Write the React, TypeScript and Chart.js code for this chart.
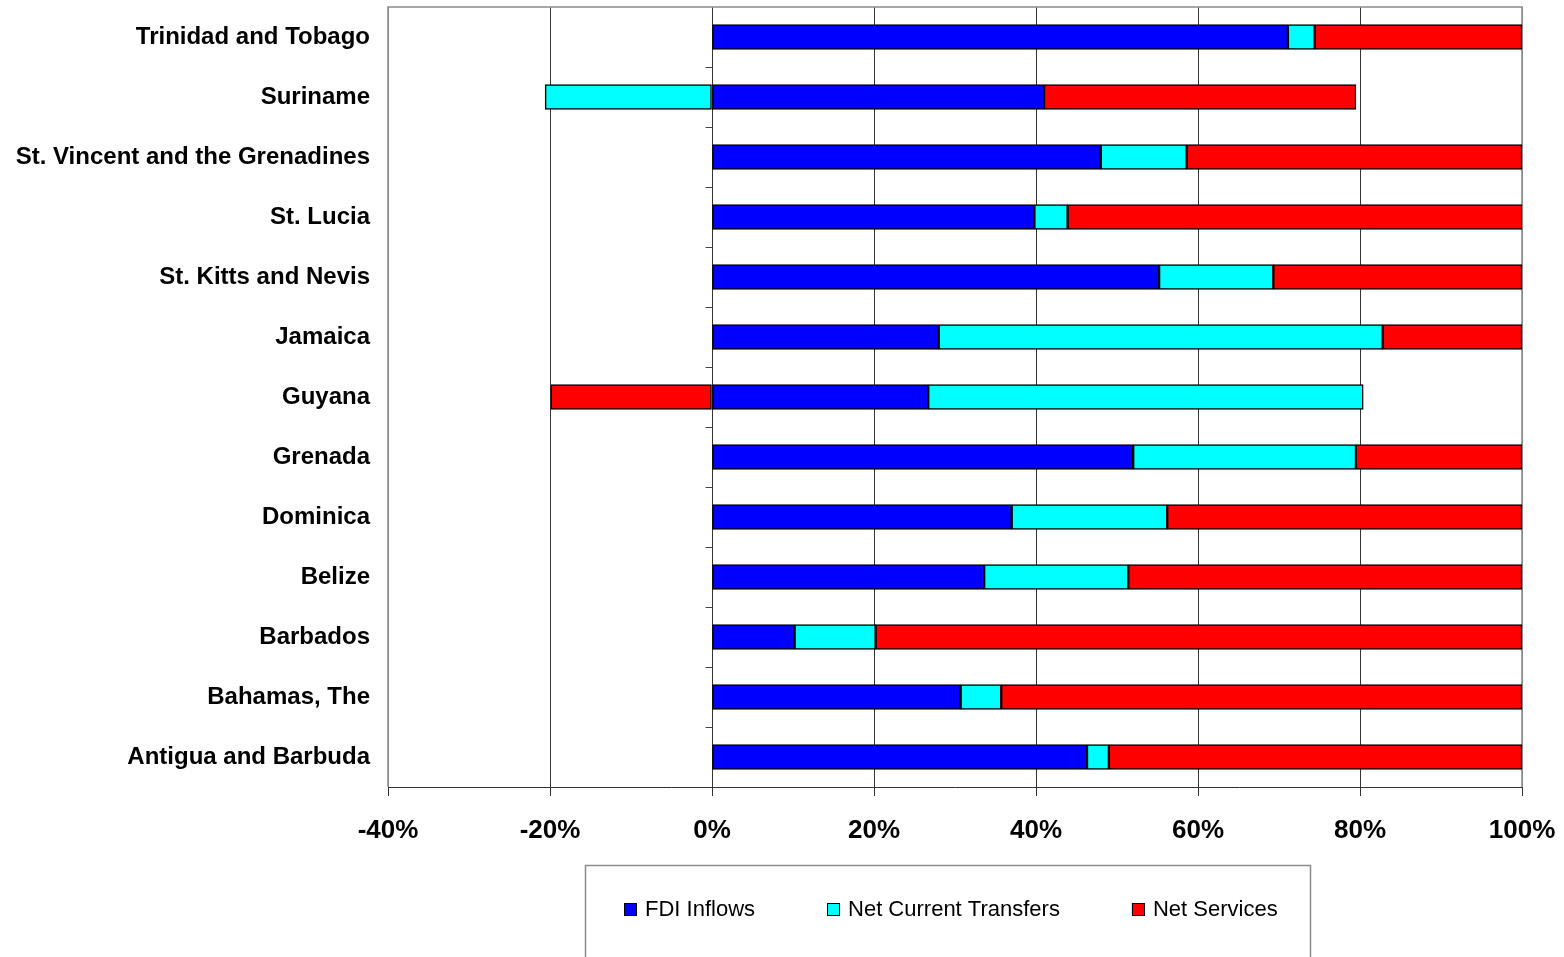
import React, { useEffect, useRef } from "react";
import { Chart, registerables } from "chart.js";

Chart.register(...registerables);

// Caribbean economies, listed top to bottom
const countries = [
  "Trinidad and Tobago",
  "Suriname",
  "St. Vincent and the Grenadines",
  "St. Lucia",
  "St. Kitts and Nevis",
  "Jamaica",
  "Guyana",
  "Grenada",
  "Dominica",
  "Belize",
  "Barbados",
  "Bahamas, The",
  "Antigua and Barbuda",
];

// Shares of each flow (percent)
const fdiInflows = [71.1, 41.0, 48.0, 39.8, 55.2, 28.0, 26.7, 52.0, 37.0, 33.6, 10.2, 30.7, 46.3];
const netCurrentTransfers = [3.3, -20.6, 10.6, 4.1, 14.1, 54.8, 53.7, 27.5, 19.2, 17.8, 10.0, 5.0, 2.7];
const netServices = [25.6, 38.5, 41.4, 56.2, 30.7, 17.2, -19.9, 20.5, 43.8, 48.6, 79.8, 64.3, 51.0];

const seriesNames = ["FDI Inflows", "Net Current Transfers", "Net Services"];
const seriesColors = ["#0000FF", "#00FFFF", "#FF0000"];

const xMin = -40;
const xMax = 100;
const xStep = 20;

const FONT = "'Liberation Sans', Arial, Helvetica, sans-serif";

const framePlugin = {
  id: "frameAndLegend",
  beforeDatasetsDraw(chart: any) {
    const { ctx, chartArea } = chart;
    const { left, right, top, bottom } = chartArea;
    ctx.save();
    // grey frame around the plot (top, left, right)
    ctx.strokeStyle = "#8a8a8a";
    ctx.lineWidth = 1.5;
    ctx.beginPath();
    ctx.moveTo(left, bottom);
    ctx.lineTo(left, top);
    ctx.lineTo(right, top);
    ctx.lineTo(right, bottom);
    ctx.stroke();

    // small category ticks on the zero line
    const x0 = Math.round(chart.scales.x.getPixelForValue(0)) + 0.5;
    const n = chart.data.labels.length;
    const step = (bottom - top) / n;
    ctx.strokeStyle = "#444";
    ctx.lineWidth = 1;
    ctx.beginPath();
    for (let i = 1; i < n; i++) {
      const y = Math.round(top + i * step) + 0.5;
      ctx.moveTo(x0 - 7, y);
      ctx.lineTo(x0, y);
    }
    ctx.stroke();
    ctx.restore();
  },
  afterDraw(chart: any) {
    const { ctx } = chart;
    ctx.save();
    // legend box
    ctx.strokeStyle = "#8a8a8a";
    ctx.lineWidth = 1.5;
    ctx.strokeRect(585.5, 865.5, 725, 140);

    ctx.font = `22px ${FONT}`;
    ctx.textBaseline = "middle";
    ctx.textAlign = "left";
    let x = 624;
    const cy = 910;
    chart.data.datasets.forEach((ds: any) => {
      ctx.fillStyle = ds.backgroundColor;
      ctx.fillRect(x, cy - 7, 13, 13);
      ctx.strokeStyle = "#000";
      ctx.lineWidth = 1;
      ctx.strokeRect(x + 0.5, cy - 6.5, 12, 12);
      ctx.fillStyle = "#000";
      ctx.fillText(ds.label, x + 21, cy);
      x += 21 + ctx.measureText(ds.label).width + 72;
    });
    ctx.restore();
  },
};

export default function App() {
  const canvasRef = useRef<HTMLCanvasElement | null>(null);

  useEffect(() => {
    if (!canvasRef.current) return;
    const values = [fdiInflows, netCurrentTransfers, netServices];
    const chart = new Chart(canvasRef.current, {
      type: "bar",
      data: {
        labels: countries,
        datasets: values.map((data, i) => ({
          label: seriesNames[i],
          data,
          backgroundColor: seriesColors[i],
          borderColor: "#000",
          borderWidth: 1.5,
          barThickness: 25,
          borderSkipped: false,
        })),
      },
      options: {
        indexAxis: "y",
        animation: false,
        responsive: true,
        maintainAspectRatio: false,
        layout: { padding: { top: 7, right: 42, left: 0, bottom: 0 } },
        plugins: {
          legend: { display: false },
          tooltip: { enabled: false },
          title: { display: false },
        },
        scales: {
          x: {
            stacked: true,
            min: xMin,
            max: xMax,
            afterFit(scale: any) {
              scale.height = 170;
              scale.paddingLeft = 0;
              scale.paddingRight = 0;
            },
            ticks: {
              stepSize: xStep,
              color: "#000",
              padding: 19,
              font: { family: FONT, size: 26, weight: "bold" },
              callback: (v: any) => `${v}%`,
            },
            grid: {
              color: (c: any) =>
                c.tick && (c.tick.value === xMin || c.tick.value === xMax) ? "#8a8a8a" : "#333",
              lineWidth: 1,
              tickLength: 9,
              tickColor: "#333",
            },
            border: { display: true, color: "#333", width: 1 },
          },
          y: {
            stacked: true,
            afterFit(scale: any) {
              scale.width = 388;
              scale.paddingTop = 0;
              scale.paddingBottom = 0;
            },
            ticks: {
              color: "#000",
              padding: 18,
              font: { family: FONT, size: 24, weight: "bold" },
            },
            grid: { display: false, drawTicks: false },
            border: { display: false },
          },
        },
      },
      plugins: [framePlugin],
    });
    return () => chart.destroy();
  }, []);

  return (
    <div style={{ position: "fixed", left: 0, top: 0, width: 1564, height: 957, background: "#fff" }}>
      <canvas ref={canvasRef} />
    </div>
  );
}
